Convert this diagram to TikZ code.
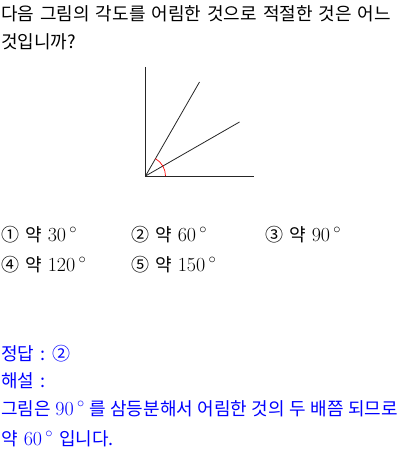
\documentclass[tikz,border=0pt]{standalone}
\usepackage{fontspec}
\newfontfamily\kr{Noto Sans CJK KR}
\usetikzlibrary{positioning}
\tikzset{>=latex}
\definecolor{ansblue}{RGB}{0,0,255}
\newcommand{\krfont}{\kr\fontsize{18}{20}\selectfont\spaceskip=6pt\relax}
\newcommand{\krtight}{\kr\fontsize{18}{20}\selectfont\spaceskip=4.5pt\relax}
\newcommand{\dg}[1]{{\rmfamily\fontsize{20}{22}\selectfont #1\,$^{\circ}$}}

\begin{document}
\begin{tikzpicture}[x=1pt,y=-1pt,
  txt/.style={anchor=base west,inner sep=0pt,font=\krfont},
  ans/.style={txt,text=ansblue},
  ray/.style={line width=0.8pt,black!85}]
    \useasboundingbox (0,0) rectangle (400,454);
    %question
    \node[txt] (q1) at (1,21) {다음 그림의 각도를 어림한 것으로 적절한 것은 어느};
    \node[txt] (q2) at (1,49) {것입니까?};
    %angle figure
    \coordinate (O) at (145.5,176);
    \coordinate (top) at (145.5,67);
    \coordinate (end) at (254,176);
    \coordinate (A) at (199.5,82);
    \coordinate (B) at (239.5,122);
    \draw[ray] (top) -- (O) -- (end);
    \draw[ray] (O) -- (A);
    \draw[ray] (O) -- (B);
    \draw[red,line width=0.7pt] ([xshift=20pt]O) arc[start angle=0,end angle=60,radius=20pt];
    %choices
    \node[txt] (c1) at (1,241) {① 약 \dg{30}};
    \node[txt] (c2) at (131,241) {② 약 \dg{60}};
    \node[txt] (c3) at (265,241) {③ 약 \dg{90}};
    \node[txt] (c4) at (1,271) {④ 약 \dg{120}};
    \node[txt] (c5) at (131,271) {⑤ 약 \dg{150}};
    %answer
    \node[ans] (a1) at (1,360) {정답 : ②};
    \node[ans] (a2) at (1,387) {해설 :};
    \node[ans,font=\krtight] (a3) at (1,415)
      {그림은 \dg{90} 를 삼등분해서 어림한 것의 두 배쯤 되므로};
    \node[ans] (a4) at (1,445) {약 \dg{60} 입니다.};
\end{tikzpicture}
\end{document}
